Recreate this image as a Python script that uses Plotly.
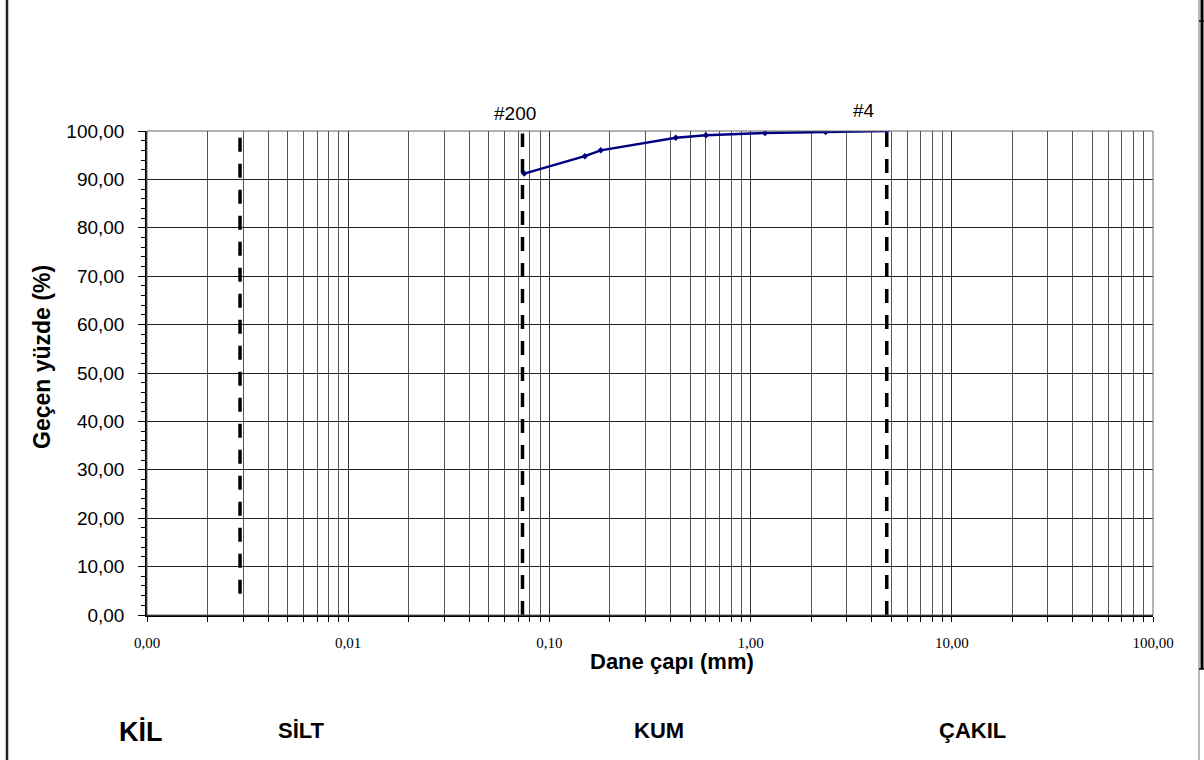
import plotly.graph_objects as go

# ---- data ----
sieve_mm = [4.75, 2.36, 1.18, 0.60, 0.425, 0.18, 0.15, 0.075]
passing_pct = [100.0, 99.8, 99.6, 99.1, 98.6, 96.0, 94.8, 91.2]

boundary_x = [0.0029, 0.0735, 4.75]
boundary_top = [98.9, 99.5, 99.7]
boundary_bottom = [4.4, 0.0, 0.0]

x_tick_vals = [0.001, 0.01, 0.1, 1, 10, 100]
x_tick_text = ["0,00", "0,01", "0,10", "1,00", "10,00", "100,00"]
y_tick_vals = [0, 10, 20, 30, 40, 50, 60, 70, 80, 90, 100]
y_tick_text = ["0,00", "10,00", "20,00", "30,00", "40,00", "50,00",
               "60,00", "70,00", "80,00", "90,00", "100,00"]

sieve_labels = ["#200", "#4"]
zone_labels = ["KİL", "SİLT", "KUM", "ÇAKIL"]

# ---- layout geometry (pixels) ----
W, H = 1204, 760
ML, MR, MT, MB = 147, 51, 131, 145
PW, PH = W - ML - MR, H - MT - MB


def px(xp):
    return (xp - ML) / PW


def py(yp):
    return (H - MB - yp) / PH


minor_x = [m * 10 ** e for e in range(-3, 2) for m in range(2, 10)]

fig = go.Figure()

# boundary dashed lines
for bx, bt, bb in zip(boundary_x, boundary_top, boundary_bottom):
    fig.add_trace(go.Scatter(
        x=[bx, bx], y=[bb, bt], mode="lines",
        line=dict(color="black", width=3.5, dash="14px,12px"),
        hoverinfo="skip", showlegend=False))

# grading curve
fig.add_trace(go.Scatter(
    x=sieve_mm, y=passing_pct, mode="lines+markers",
    line=dict(color="#000080", width=2.5),
    marker=dict(symbol="diamond", size=5, color="#000080"),
    showlegend=False))

sans = "Liberation Sans, Arial, sans-serif"
serif = "Liberation Serif, Times New Roman, serif"

fig.update_layout(
    width=W, height=H, autosize=False,
    margin=dict(l=ML, r=MR, t=MT, b=MB, pad=0),
    paper_bgcolor="white", plot_bgcolor="white",
    showlegend=False,
    xaxis=dict(
        type="log", range=[-3, 2],
        tickvals=x_tick_vals, ticktext=x_tick_text,
        tickfont=dict(family=serif, size=15, color="black"),
        ticks="outside", ticklen=5, tickcolor="black", tickwidth=1,
        ticklabelstandoff=8,
        showgrid=True, gridcolor="#333333", gridwidth=1,
        showline=True, linecolor="black", linewidth=1.5,
        zeroline=False,
        minor=dict(tickvals=minor_x, showgrid=True, gridcolor="#555555",
                   gridwidth=1, ticks="outside", ticklen=5,
                   tickcolor="black"),
    ),
    yaxis=dict(
        range=[0, 100],
        tickvals=y_tick_vals, ticktext=y_tick_text,
        tickfont=dict(family=sans, size=19, color="black"),
        ticks="outside", ticklen=7, tickcolor="black", tickwidth=1,
        ticklabelstandoff=10,
        showgrid=True, gridcolor="#222222", gridwidth=1,
        showline=True, linecolor="black", linewidth=1.5,
        zeroline=False,
        minor=dict(dtick=2, ticks="outside", ticklen=4, tickcolor="black",
                   showgrid=False),
    ),
)

ann = []


def add_text(text, xp, yp, size, angle=0):
    ann.append(dict(text=text, x=px(xp), y=py(yp), xref="paper",
                    yref="paper", showarrow=False, textangle=angle,
                    xanchor="center", yanchor="middle",
                    font=dict(family=sans, size=size, color="black")))


# axis titles
add_text("<b>Dane çapı (mm)</b>", 672, 661, 22)
add_text("<b>Geçen yüzde (%)</b>", 42, 357, 23, angle=-90)
# sieve labels
for lab, (xp, yp) in zip(sieve_labels, [(515, 114), (864, 111)]):
    add_text(lab, xp, yp, 19)
# zone labels
zone_pos = [(141, 732, 27), (301, 730, 22), (659, 730, 22), (972, 730, 22)]
for lab, (xp, yp, fs) in zip(zone_labels, zone_pos):
    add_text("<b>" + lab + "</b>", xp, yp, fs)
fig.update_layout(annotations=ann)

shapes = [
    # plot frame top/right
    dict(type="rect", xref="paper", yref="paper", x0=0, x1=1, y0=0, y1=1,
         line=dict(color="#666666", width=1), layer="above"),
    # outer page borders
    dict(type="line", xref="paper", yref="paper", x0=px(7), x1=px(7),
         y0=py(0), y1=py(760), line=dict(color="#222222", width=2.5)),
    dict(type="line", xref="paper", yref="paper", x0=px(1199), x1=px(1199),
         y0=py(0), y1=py(760), line=dict(color="#777777", width=1)),
    dict(type="line", xref="paper", yref="paper", x0=px(1202), x1=px(1202),
         y0=py(0), y1=py(669), line=dict(color="black", width=3)),
    dict(type="line", xref="paper", yref="paper", x0=px(1199), x1=px(1204),
         y0=py(21), y1=py(21), line=dict(color="black", width=1.5)),
    dict(type="line", xref="paper", yref="paper", x0=px(1199), x1=px(1204),
         y0=py(669), y1=py(669), line=dict(color="black", width=1.5)),
]
fig.update_layout(shapes=shapes)

fig.write_html(
    "out.html",
    config={"displayModeBar": False},
    post_script="document.body.style.margin='0';document.body.style.overflow='hidden';",
)
